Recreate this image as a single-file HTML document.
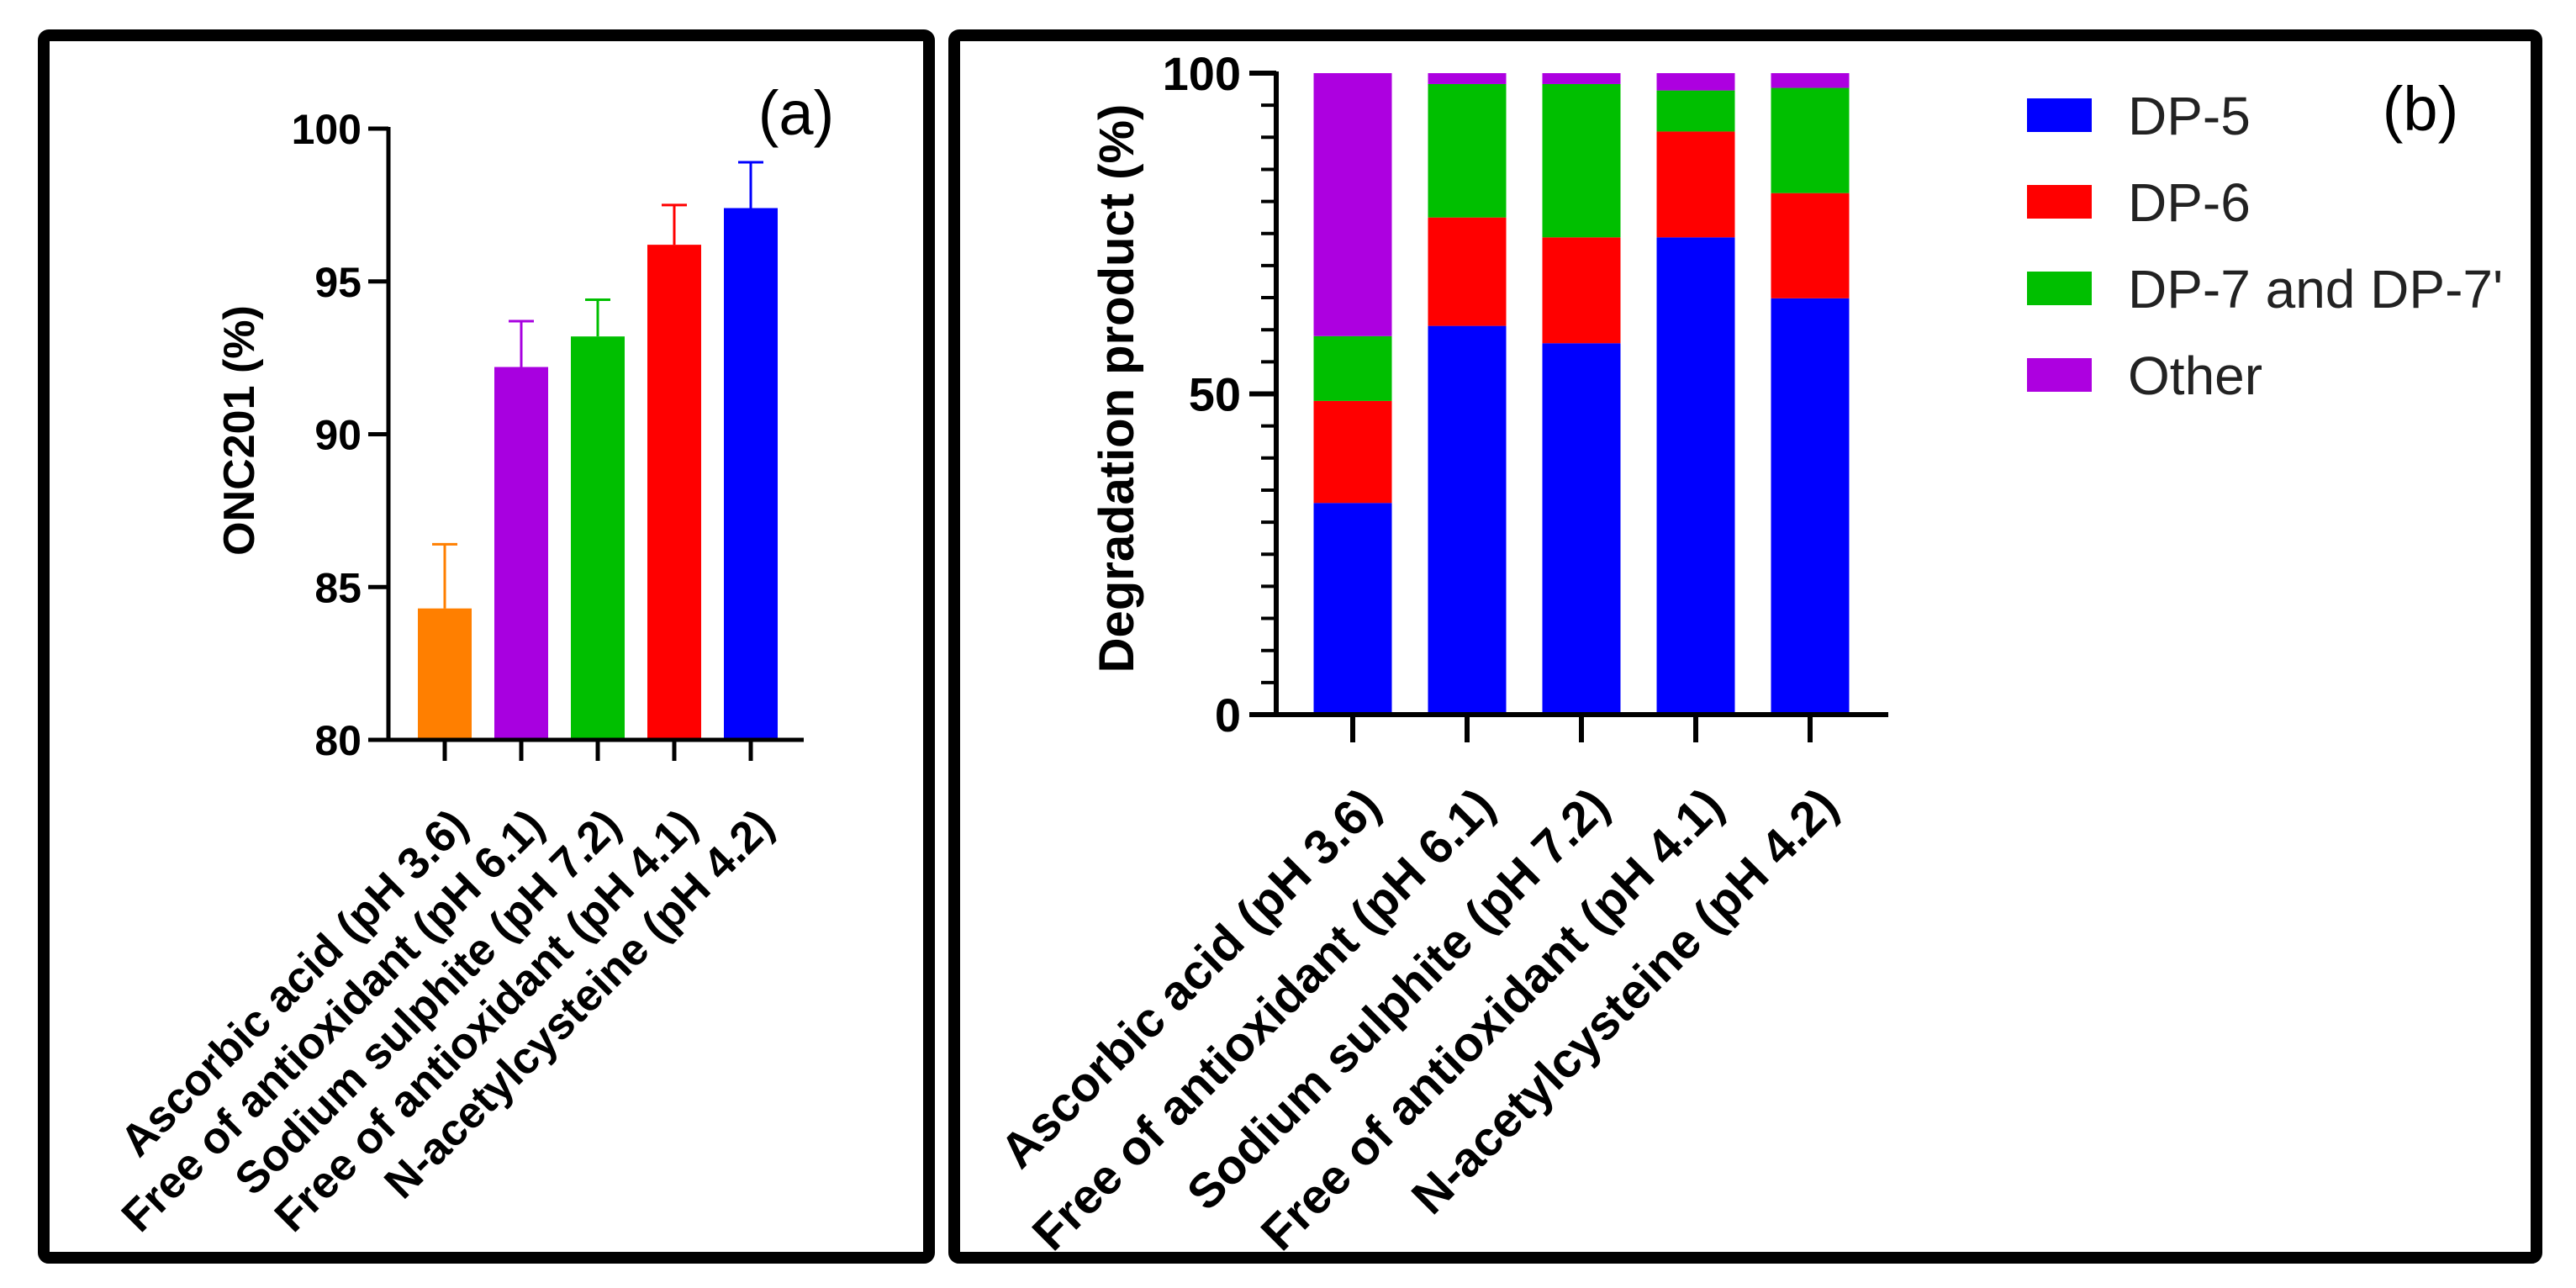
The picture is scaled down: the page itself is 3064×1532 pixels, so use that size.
<!DOCTYPE html>
<html><head><meta charset="utf-8">
<style>
html,body{margin:0;padding:0;background:#fff;}
svg{display:block;font-family:"Liberation Sans",Arial,sans-serif;}
</style></head>
<body>
<svg id="fig" width="3064" height="1532" viewBox="0 0 3064 1532" xmlns="http://www.w3.org/2000/svg">
  <rect x="52" y="42" width="1053" height="1454" rx="6" fill="none" stroke="#000" stroke-width="14"/>
  <rect x="1135" y="42" width="1882" height="1454" rx="6" fill="none" stroke="#000" stroke-width="14"/>
  <g id="pa"></g>
  <g id="pb"></g>
</svg>
<script>
// Panel (a) data
const catsA = ["Ascorbic acid (pH 3.6)","Free of antioxidant (pH 6.1)","Sodium sulphite (pH 7.2)","Free of antioxidant (pH 4.1)","N-acetylcysteine (pH 4.2)"];
const valsA = [84.3, 92.2, 93.2, 96.2, 97.4];
const errA = [86.4, 93.7, 94.4, 97.5, 98.9];
const colorsA = ["#ff7f00","#a800e0","#00bf00","#ff0000","#0000ff"];
const ticksA = [80, 85, 90, 95, 100];
// Panel (b) data
const catsB = ["Ascorbic acid (pH 3.6)","Free of antioxidant (pH 6.1)","Sodium sulphite (pH 7.2)","Free of antioxidant (pH 4.1)","N-acetylcysteine (pH 4.2)"];
const seriesNames = ["DP-5","DP-6","DP-7 and DP-7'","Other"];
const dp5 = [33.0, 60.6, 57.9, 74.4, 64.9];
const dp6 = [15.9, 16.9, 16.5, 16.5, 16.4];
const dp7 = [10.1, 20.8, 23.9, 6.4, 16.4];
const other = [41.0, 1.7, 1.7, 2.7, 2.3];
const colorsB = ["#0000ff","#ff0000","#00bf00","#ad00e0"];
const ticksB = [0, 50, 100];

const NS="http://www.w3.org/2000/svg";
function mk(parent, tag, attrs, text){
  const e=document.createElementNS(NS,tag);
  for(const k in attrs) e.setAttribute(k, attrs[k]);
  if(text!==undefined) e.textContent=text;
  parent.appendChild(e); return e;
}

// ---------- Panel A ----------
(function(){
  const g=document.getElementById('pa');
  const axX=462, y0=880, y1=153, xEnd=956;
  const yS=v=>y0-(v-80)/(100-80)*(y0-y1);
  const cx0=529, step=91, bw=64;
  const xS=i=>cx0+i*step;
  valsA.forEach((v,i)=>{
    const r=mk(g,'rect',{x:xS(i)-bw/2,y:yS(v),width:bw,height:y0-yS(v),fill:colorsA[i]});
    
    
    const ln=mk(g,'path',{d:`M${xS(i)} ${yS(v)} V${yS(errA[i])} M${xS(i)-15} ${yS(errA[i])} H${xS(i)+15}`,stroke:colorsA[i],'stroke-width':3,fill:'none'});
    
    
  });
  const ax=mk(g,'path',{d:`M${axX} ${y1-2} V${y0} H${xEnd}`,stroke:'#000','stroke-width':5,fill:'none'});
  
  
  ticksA.forEach(t=>{
    mk(g,'line',{x1:axX-24,x2:axX,y1:yS(t),y2:yS(t),stroke:'#000','stroke-width':5});
    const tl=mk(g,'text',{x:axX-32,y:yS(t)+18,'text-anchor':'end','font-size':50,'font-weight':'bold'},String(t));
    
    
  });
  catsA.forEach((c,i)=>{
    mk(g,'line',{x1:xS(i),x2:xS(i),y1:y0,y2:y0+25,stroke:'#000','stroke-width':5});
    const bx=xS(i)+30, by=y0+105;
    const t=mk(g,'text',{x:bx,y:by,'text-anchor':'end','font-size':53,'font-weight':'bold',transform:`rotate(-45 ${bx} ${by})`},c);
    
    
  });
  const yt=mk(g,'text',{x:0,y:0,'text-anchor':'middle','font-size':52,'font-weight':'bold',transform:'translate(302 512) rotate(-90)'},'ONC201 (%)');
  
  
  const pt=mk(g,'text',{x:947,y:160,'text-anchor':'middle','font-size':74},'(a)');
  
  
})();

// ---------- Panel B ----------
(function(){
  const g=document.getElementById('pb');
  const axX=1518, y0=850, y1=87, xEnd=2246;
  const yS=v=>y0-v/100*(y0-y1);
  const cx0=1609, step=136, bw=93;
  const xS=i=>cx0+i*step;
  const series=[dp5,dp6,dp7,other];
  catsB.forEach((c,i)=>{
    let acc=0;
    series.forEach((s,k)=>{
      const v=s[i];
      const r=mk(g,'rect',{x:xS(i)-bw/2,y:yS(acc+v),width:bw,height:yS(acc)-yS(acc+v),fill:colorsB[k]});
      
      
      acc+=v;
    });
  });
  const ax=mk(g,'path',{d:`M${axX} ${y1-2} V${y0} H${xEnd}`,stroke:'#000','stroke-width':6,fill:'none'});
  
  
  for(let v=0; v<=100; v+=5){
    const major=ticksB.includes(v);
    mk(g,'line',{x1:axX-(major?32:18),x2:axX,y1:yS(v),y2:yS(v),stroke:'#000','stroke-width':major?6:4});
  }
  ticksB.forEach(t=>{
    const tl=mk(g,'text',{x:axX-42,y:yS(t)+20,'text-anchor':'end','font-size':56,'font-weight':'bold'},String(t));
    
    
  });
  catsB.forEach((c,i)=>{
    mk(g,'line',{x1:xS(i),x2:xS(i),y1:y0,y2:y0+33,stroke:'#000','stroke-width':6});
    const bx=xS(i)+36, by=y0+112;
    const t=mk(g,'text',{x:bx,y:by,'text-anchor':'end','font-size':58,'font-weight':'bold',transform:`rotate(-45 ${bx} ${by})`},c);
    
    
  });
  const yt=mk(g,'text',{x:0,y:0,'text-anchor':'middle','font-size':58,'font-weight':'bold',transform:'translate(1348 462) rotate(-90)'},'Degradation product (%)');
  
  
  seriesNames.forEach((n,k)=>{
    const cy=137+k*103;
    const sw=mk(g,'rect',{x:2411,y:cy-20,width:77,height:40,fill:colorsB[k]});
    
    
    const lt=mk(g,'text',{x:2531,y:cy+23,'font-size':64,fill:'#222',textLength:0},n);
    lt.removeAttribute('textLength');
    
    
  });
  const pt=mk(g,'text',{x:2879,y:155,'text-anchor':'middle','font-size':74},'(b)');
  
  
})();
</script>
</body></html>
